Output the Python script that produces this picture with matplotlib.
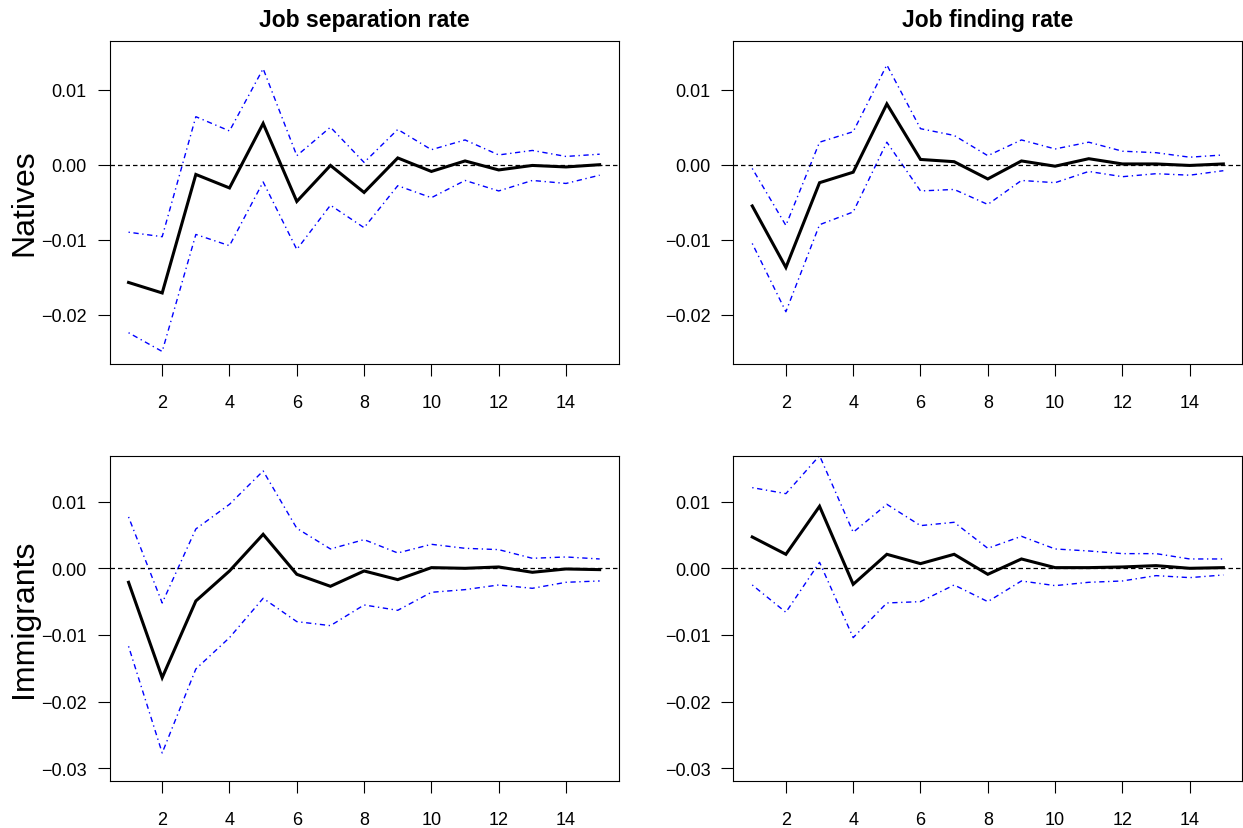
import numpy as np
import matplotlib
matplotlib.use("Agg")
import matplotlib.pyplot as plt

plt.rcParams['font.family'] = ['Liberation Sans', 'DejaVu Sans']

# --------------- data ---------------
horizon = list(range(1, 16))

# Natives, job separation rate
nat_sep = [-0.0157, -0.0171, -0.0013, -0.0031, 0.0055, -0.0049, -0.0001, -0.0037,
           0.0009, -0.0009, 0.0005, -0.0007, -0.0001, -0.0003, 0.0000]
nat_sep_up = [-0.0090, -0.0096, 0.0064, 0.0045, 0.0128, 0.0012, 0.0050, 0.0003,
              0.0047, 0.0020, 0.0033, 0.0013, 0.0019, 0.0011, 0.0014]
nat_sep_lo = [-0.0224, -0.0249, -0.0093, -0.0108, -0.0023, -0.0113, -0.0054, -0.0084,
              -0.0028, -0.0044, -0.0021, -0.0035, -0.0021, -0.0025, -0.0014]

# Natives, job finding rate
nat_find = [-0.0055, -0.0137, -0.0024, -0.0010, 0.0081, 0.0007, 0.0004, -0.0019,
            0.0005, -0.0002, 0.0008, 0.0001, 0.0001, -0.0001, 0.0001]
nat_find_up = [-0.0005, -0.0081, 0.0030, 0.0044, 0.0133, 0.0048, 0.0039, 0.0012,
               0.0033, 0.0021, 0.0030, 0.0018, 0.0016, 0.0010, 0.0013]
nat_find_lo = [-0.0105, -0.0196, -0.0080, -0.0063, 0.0030, -0.0035, -0.0033, -0.0053,
               -0.0021, -0.0024, -0.0009, -0.0016, -0.0012, -0.0014, -0.0008]

# Immigrants, job separation rate
imm_sep = [-0.0021, -0.0164, -0.0049, -0.0004, 0.0051, -0.0009, -0.0027, -0.0004,
           -0.0017, 0.0001, 0.0000, 0.0002, -0.0006, -0.0001, -0.0002]
imm_sep_up = [0.0077, -0.0052, 0.0059, 0.0096, 0.0146, 0.0060, 0.0029, 0.0043,
              0.0023, 0.0036, 0.0030, 0.0028, 0.0015, 0.0017, 0.0014]
imm_sep_lo = [-0.0117, -0.0277, -0.0151, -0.0104, -0.0045, -0.0080, -0.0086, -0.0055,
              -0.0063, -0.0036, -0.0032, -0.0025, -0.0030, -0.0021, -0.0019]

# Immigrants, job finding rate
imm_find = [0.0047, 0.0021, 0.0093, -0.0024, 0.0021, 0.0007, 0.0021, -0.0009,
            0.0014, 0.0001, 0.0001, 0.0002, 0.0004, 0.0000, 0.0001]
imm_find_up = [0.0121, 0.0112, 0.0169, 0.0054, 0.0096, 0.0064, 0.0069, 0.0030,
               0.0048, 0.0029, 0.0026, 0.0022, 0.0022, 0.0014, 0.0014]
imm_find_lo = [-0.0025, -0.0066, 0.0009, -0.0104, -0.0052, -0.0050, -0.0025, -0.0050,
               -0.0019, -0.0026, -0.0021, -0.0019, -0.0011, -0.0014, -0.0010]

col_titles = ['Job separation rate', 'Job finding rate']
row_titles = ['Natives', 'Immigrants']
x_ticks = [2, 4, 6, 8, 10, 12, 14]
top_yticks = [-0.02, -0.01, 0.0, 0.01]
bot_yticks = [-0.03, -0.02, -0.01, 0.0, 0.01]


def fmt(v):
    s = '%.2f' % abs(v)
    return ('\u2212' + s) if v < 0 else s


def irf_panel(ax, resp, up, lo, yticks, ylim):
    ax.plot(horizon, resp, color='black', lw=2.2, solid_joinstyle='miter', zorder=3)
    ax.plot(horizon, up, color='blue', lw=1.0, dashes=[0.95, 2.6, 3.8, 2.6])
    ax.plot(horizon, lo, color='blue', lw=1.0, dashes=[0.95, 2.6, 3.8, 2.6])
    ax.axhline(0, color='black', lw=0.9, dashes=[3.6, 2.4])
    ax.set_xlim(0.44, 15.56)
    ax.set_ylim(*ylim)
    ax.set_xticks(x_ticks)
    ax.set_xticklabels([str(t) for t in x_ticks])
    ax.set_yticks(yticks)
    ax.set_yticklabels([fmt(t) for t in yticks])
    ax.tick_params(axis='both', direction='out', length=8.5, width=0.8, labelsize=13)
    ax.tick_params(axis='x', pad=13)
    ax.tick_params(axis='y', pad=8)
    for sp in ax.spines.values():
        sp.set_linewidth(0.8)


fig = plt.figure(figsize=(12.43, 8.29), dpi=100)

W, H = 1243.0, 829.0
lefts = [109.7, 733.4]
width = 508.8
tops = [41.7, 457.3]
bottoms = [365.0, 781.7]

panels = [
    [(nat_sep, nat_sep_up, nat_sep_lo), (nat_find, nat_find_up, nat_find_lo)],
    [(imm_sep, imm_sep_up, imm_sep_lo), (imm_find, imm_find_up, imm_find_lo)],
]
ylims = [(-0.02657, 0.01653), (-0.03186, 0.0168)]
yticks_rows = [top_yticks, bot_yticks]

for r in range(2):
    for c in range(2):
        ax = fig.add_axes([lefts[c] / W, 1 - bottoms[r] / H, width / W, (bottoms[r] - tops[r]) / H])
        resp, up, lo = panels[r][c]
        irf_panel(ax, resp, up, lo, yticks_rows[r], ylims[r])

# column and row headings
for c in range(2):
    fig.text((lefts[c] + width / 2) / W, 1 - 20 / H, col_titles[c], ha='center', va='center',
             fontsize=16.5, fontweight='bold')
row_centres = [203, 619]
for r in range(2):
    fig.text(24 / W, 1 - row_centres[r] / H, row_titles[r], rotation=90, ha='center', va='center',
             fontsize=23)

fig.savefig('out.png', dpi=100)
